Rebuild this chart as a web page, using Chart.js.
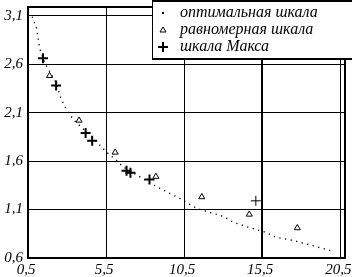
<!DOCTYPE html>
<html><head><meta charset="utf-8">
<script src="https://cdn.jsdelivr.net/npm/chart.js@4"></script>
<style>html,body{margin:0;padding:0;background:#fff}#wrap{width:352px;height:277px}</style>
</head><body><div id="wrap"><canvas id="c" width="352" height="277"></canvas></div>
<script>
const optX=[0.77,1.05,1.25,1.61,2.30,2.62,3.03,3.46,3.98,4.82,5.55,6.18,6.60,7.54,8.59,9.54,10.12,11.32,12.15,13.0,13.63,14.57,15.72,16.35,17.5,18.66,20.02];
const optY=[3.09,2.97,2.76,2.60,2.41,2.24,2.11,2.02,1.94,1.81,1.69,1.605,1.54,1.45,1.35,1.27,1.225,1.11,1.07,1.03,0.97,0.92,0.865,0.815,0.78,0.73,0.67];
const uniX=[1.88,3.77,6.08,8.69,11.63,14.67,17.75];
const uniY=[2.48,2.02,1.69,1.44,1.23,1.05,0.91];
const maxX=[1.46,2.30,4.19,4.61,6.81,7.06,8.28,15.09];
const maxY=[2.66,2.38,1.89,1.81,1.50,1.48,1.41,1.19];
const legendLabels=['оптимальная шкала','равномерная шкала','шкала Макса'];
const xTicks=[0.5,5.5,10.5,15.5,20.5];
const xTickLabels=['0,5','5,5','10,5','15,5','20,5'];
const yTicks=[0.6,1.1,1.6,2.1,2.6,3.1];
const yTickLabels=['0,6','1,1','1,6','2,1','2,6','3,1'];

const FONT='italic 15px "Liberation Serif", "DejaVu Serif", serif';
const pts=(xs,ys)=>xs.map((x,i)=>({x:x,y:ys[i]}));

const extras={
  id:'extras',
  afterDatasetsDraw(chart){
    const ctx=chart.ctx, a=chart.chartArea, xs=chart.scales.x;
    ctx.save();
    ctx.strokeStyle='#000';
    ctx.lineWidth=2;
    ctx.beginPath();
    ctx.moveTo(a.left,a.top);ctx.lineTo(a.right,a.top);
    ctx.moveTo(a.right,a.top);ctx.lineTo(a.right,a.bottom);
    ctx.stroke();
    const bx=152,by=0,bb=59;
    ctx.fillStyle='#fff';
    ctx.fillRect(bx,by,352-bx,bb-by);
    ctx.lineWidth=1;
    ctx.beginPath();ctx.moveTo(bx+0.5,by);ctx.lineTo(bx+0.5,bb);ctx.stroke();
    ctx.lineWidth=2;
    ctx.beginPath();ctx.moveTo(bx,bb);ctx.lineTo(352,bb);ctx.moveTo(bx,1);ctx.lineTo(352,1);ctx.stroke();
    const mx=163, rows=[13,30,47];
    ctx.fillStyle='#000';
    ctx.fillRect(mx-1,rows[0]-1,2,2);
    ctx.lineWidth=1;
    ctx.beginPath();
    ctx.moveTo(mx,rows[1]-3);ctx.lineTo(mx+3,rows[1]+2);ctx.lineTo(mx-3,rows[1]+2);ctx.closePath();
    ctx.stroke();
    ctx.lineWidth=2;
    ctx.beginPath();
    ctx.moveTo(mx-5,rows[2]);ctx.lineTo(mx+5,rows[2]);
    ctx.moveTo(mx,rows[2]-5);ctx.lineTo(mx,rows[2]+5);
    ctx.stroke();
    ctx.font='italic 16px "Liberation Serif", "DejaVu Serif", serif';
    ctx.textAlign='left';ctx.textBaseline='middle';
    legendLabels.forEach((t,i)=>ctx.fillText(t,180,rows[i]));
    ctx.font=FONT;
    ctx.textBaseline='middle';
    xTicks.forEach((v,i)=>{
      const w=ctx.measureText(xTickLabels[i]).width;
      let cx=xs.getPixelForValue(v)-2;
      if(cx+w/2>352) cx=352-w/2;
      ctx.textAlign='center';
      ctx.fillText(xTickLabels[i],cx,270);
    });
    ctx.restore();
  }
};

new Chart(document.getElementById('c'),{
  type:'scatter',
  data:{datasets:[
    {label:legendLabels[0],data:pts(optX,optY),showLine:true,borderColor:'#000',borderWidth:1.4,borderDash:[1.2,4.5],pointRadius:0,fill:false},
    {label:legendLabels[1],data:pts(uniX,uniY),pointStyle:'triangle',pointRadius:3.5,borderColor:'#000',borderWidth:1,backgroundColor:'#fff'},
    {label:legendLabels[2],data:pts(maxX,maxY),pointStyle:'cross',pointRadius:5,borderColor:'#000',
      borderWidth:c=>c.dataIndex===maxX.length-1?1:2,backgroundColor:'#000'}
  ]},
  options:{
    responsive:false,animation:false,devicePixelRatio:1,
    layout:{padding:{top:1,right:1,left:0,bottom:0}},
    plugins:{legend:{display:false},tooltip:{enabled:false}},
    scales:{
      x:{type:'linear',min:0.5,max:20.8,
        afterBuildTicks(s){s.ticks=xTicks.map(v=>({value:v}));},
        afterFit(s){s.height=19;s.paddingLeft=0;s.paddingRight=0;},
        ticks:{display:false},
        grid:{color:'#000',drawTicks:false,lineWidth:c=>c.tick&&c.tick.value===15.5?2:1},
        border:{display:true,color:'#000',width:2}
      },
      y:{type:'linear',min:0.6,max:3.19,
        afterBuildTicks(s){s.ticks=yTicks.map(v=>({value:v}));},
        afterFit(s){s.width=28;s.paddingTop=0;s.paddingBottom=0;},
        ticks:{color:'#000',font:{family:'"Liberation Serif", serif',style:'italic',size:15},padding:5,
          callback:(v)=>{const i=yTicks.findIndex(t=>Math.abs(t-v)<1e-6);return i>=0?yTickLabels[i]:'';}},
        grid:{color:'#000',drawTicks:false,lineWidth:1},
        border:{display:true,color:'#000',width:2}
      }
    }
  },
  plugins:[extras]
});
</script></body></html>
